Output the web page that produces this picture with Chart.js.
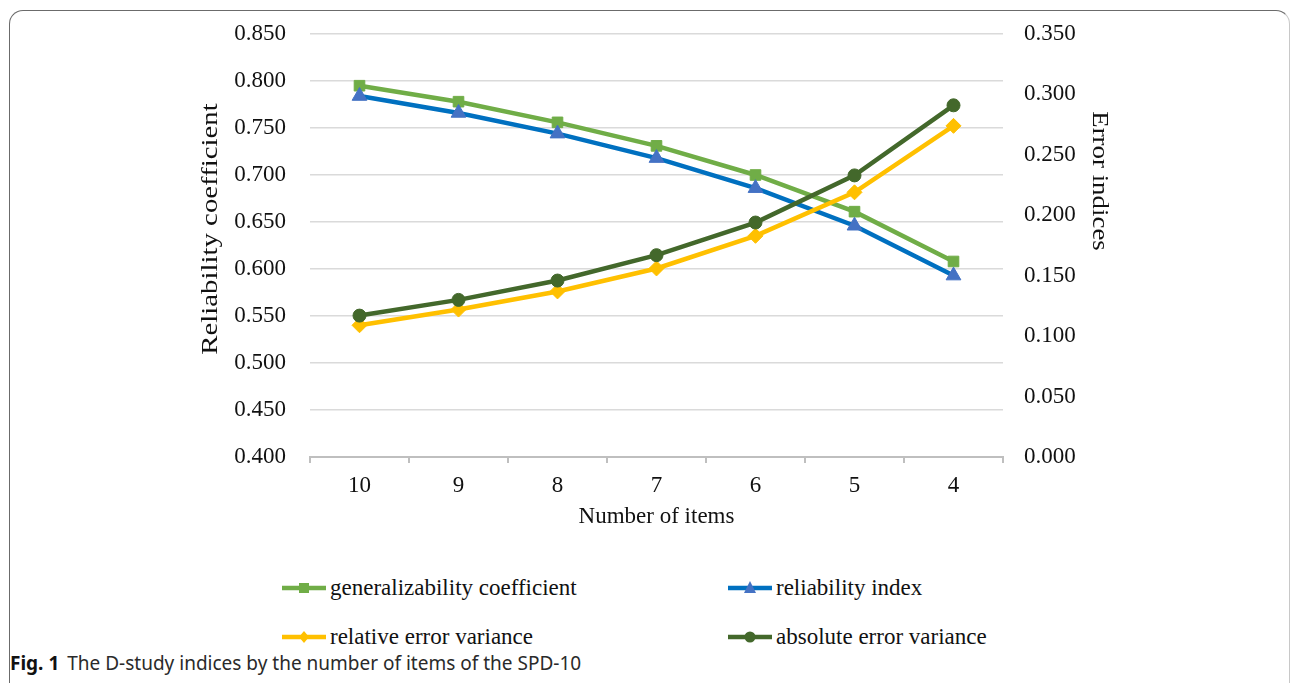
<!DOCTYPE html>
<html>
<head>
<meta charset="utf-8">
<script src="https://cdn.jsdelivr.net/npm/chart.js@4.4.0/dist/chart.umd.min.js"></script>
<style>
  html, body { margin: 0; padding: 0; background: #fff; }
  body { width: 1295px; height: 683px; position: relative; overflow: hidden; }
  #frame {
    position: absolute; left: 9px; top: 10px; width: 1279px; height: 720px;
    border: 1.5px solid #6b6b6b; border-right-color: #c8c8c8; border-radius: 14px;
  }
  #wrap { position: absolute; left: 0; top: 0; width: 1295px; height: 540px; }
  .leg {
    position: absolute; font-family: "Liberation Serif", "Times New Roman", serif;
    font-size: 23px; color: #111; display: flex; align-items: center; white-space: nowrap;
  }
  .leg svg { margin-right: 4px; }
  #caption {
    position: absolute; left: 10px; top: 650px;
    font-family: "Noto Sans", "Open Sans", sans-serif; font-size: 19px; color: #2a2a2a;
  }
  #caption b { margin-right: 8px; color: #111; }
</style>
</head>
<body>
<div id="frame"></div>
<div id="wrap"><canvas id="chart"></canvas></div>
<div id="legend"></div>
<div id="caption"><b>Fig. 1</b>The D-study indices by the number of items of the SPD-10</div>
<script>
// Daten
const categories = ['10', '9', '8', '7', '6', '5', '4'];
const genCoef   = [0.795, 0.778, 0.756, 0.731, 0.700, 0.661, 0.608];
const relIndex  = [0.784, 0.766, 0.744, 0.718, 0.686, 0.646, 0.593];
const relErrVar = [0.109, 0.122, 0.137, 0.156, 0.183, 0.219, 0.274];
const absErrVar = [0.117, 0.130, 0.146, 0.167, 0.194, 0.233, 0.291];
const leftRange  = [0.40, 0.85, 0.05];
const rightRange = [0.00, 0.35, 0.05];
const seriesNames = ['generalizability coefficient', 'reliability index',
                     'relative error variance', 'absolute error variance'];

const serif = '"Liberation Serif", "Times New Roman", serif';

// Achsentitel (senkrecht) selbst zeichnen
const sideTitles = {
  id: 'sideTitles',
  afterDraw(chart) {
    const ctx = chart.ctx;
    ctx.save();
    ctx.fillStyle = '#111';
    ctx.font = '24px ' + serif;
    ctx.textAlign = 'center';
    ctx.textBaseline = 'middle';
    ctx.save();
    ctx.translate(211, 229);
    ctx.rotate(-Math.PI / 2);
    ctx.scale(1.2, 1);
    ctx.fillText('Reliability coefficient', 0, 0);
    ctx.restore();
    ctx.save();
    ctx.translate(1099, 181);
    ctx.rotate(Math.PI / 2);
    ctx.scale(1.12, 1);
    ctx.fillText('Error indices', 0, 0);
    ctx.restore();
    ctx.restore();
  }
};

// feste Achsenbreite, kein Zusatzabstand durch Beschriftung
function fixBox(size) {
  return s => {
    if (s.isHorizontal()) s.height = size; else s.width = size;
    s.paddingTop = 0; s.paddingBottom = 0; s.paddingLeft = 0; s.paddingRight = 0;
  };
}

const ds = [
  { label: seriesNames[0], data: genCoef, yAxisID: 'y', order: 4,
    borderColor: '#70AD47', backgroundColor: '#70AD47',
    pointStyle: 'rect', pointRadius: 7.5, pointBackgroundColor: '#70AD47', pointBorderColor: '#70AD47' },
  { label: seriesNames[1], data: relIndex, yAxisID: 'y', order: 3,
    borderColor: '#0070C0', backgroundColor: '#4472C4',
    pointStyle: 'triangle', pointRadius: 8.5, pointBackgroundColor: '#4472C4', pointBorderColor: '#4472C4' },
  { label: seriesNames[2], data: relErrVar, yAxisID: 'y1', order: 2,
    borderColor: '#FFC000', backgroundColor: '#FFC000',
    pointStyle: 'rectRot', pointRadius: 7.5, pointBackgroundColor: '#FFC000', pointBorderColor: '#FFC000' },
  { label: seriesNames[3], data: absErrVar, yAxisID: 'y1', order: 1,
    borderColor: '#43682B', backgroundColor: '#43682B',
    pointStyle: 'circle', pointRadius: 6.5, pointBackgroundColor: '#43682B', pointBorderColor: '#43682B' }
];
ds.forEach(d => { d.borderWidth = 4.5; d.pointBorderWidth = 1; d.tension = 0; d.fill = false; });

new Chart(document.getElementById('chart'), {
  type: 'line',
  data: { labels: categories, datasets: ds },
  options: {
    responsive: true,
    maintainAspectRatio: false,
    animation: false,
    layout: { autoPadding: false, padding: { left: 190, right: 177, top: 34, bottom: 3 } },
    plugins: { legend: { display: false }, tooltip: { enabled: false } },
    scales: {
      x: {
        offset: true,
        afterFit: fixBox(80),
        grid: { offset: true, drawOnChartArea: false, drawTicks: true, tickLength: 6,
                color: '#bfbfbf', lineWidth: 2 },
        border: { display: true, color: '#bfbfbf', width: 2 },
        ticks: { color: '#111', font: { family: serif, size: 23 }, padding: 9 },
        title: { display: true, text: 'Number of items', color: '#111',
                 font: { family: serif, size: 23 }, padding: { top: 0, bottom: 6 } }
      },
      y: {
        position: 'left',
        min: leftRange[0], max: leftRange[1],
        afterFit: fixBox(120),
        grid: { color: '#dadada', lineWidth: 1.6, drawTicks: false },
        border: { display: false },
        ticks: { stepSize: leftRange[2], padding: 24, color: '#111',
                 font: { family: serif, size: 23 }, callback: v => v.toFixed(3) }
      },
      y1: {
        position: 'right',
        min: rightRange[0], max: rightRange[1],
        afterFit: fixBox(115),
        grid: { display: false, drawOnChartArea: false },
        border: { display: false },
        ticks: { stepSize: rightRange[2], padding: 13, color: '#111',
                 font: { family: serif, size: 23 }, callback: v => v.toFixed(3) }
      }
    }
  },
  plugins: [sideTitles]
});

// Legende als HTML
const legendPos = [[282, 588], [728, 588], [282, 637], [728, 637]];
const legend = document.getElementById('legend');
ds.forEach((d, i) => {
  const c = d.pointBackgroundColor;
  let marker = '';
  if (d.pointStyle === 'rect') marker = `<rect x="17" y="2" width="10" height="10" fill="${c}"/>`;
  if (d.pointStyle === 'triangle') marker = `<polygon points="22,0 28,12 16,12" fill="${c}"/>`;
  if (d.pointStyle === 'rectRot') marker = `<polygon points="22,1 27,7 22,13 17,7" fill="${c}"/>`;
  if (d.pointStyle === 'circle') marker = `<circle cx="22" cy="7" r="5.5" fill="${c}"/>`;
  const item = document.createElement('div');
  item.className = 'leg';
  item.style.left = legendPos[i][0] + 'px';
  item.style.top = (legendPos[i][1] - 13) + 'px';
  item.innerHTML = `<svg width="44" height="14"><line x1="0" y1="7" x2="44" y2="7" stroke="${d.borderColor}" stroke-width="4.5"/>${marker}</svg><span>${d.label}</span>`;
  legend.appendChild(item);
});
</script>
</body>
</html>
